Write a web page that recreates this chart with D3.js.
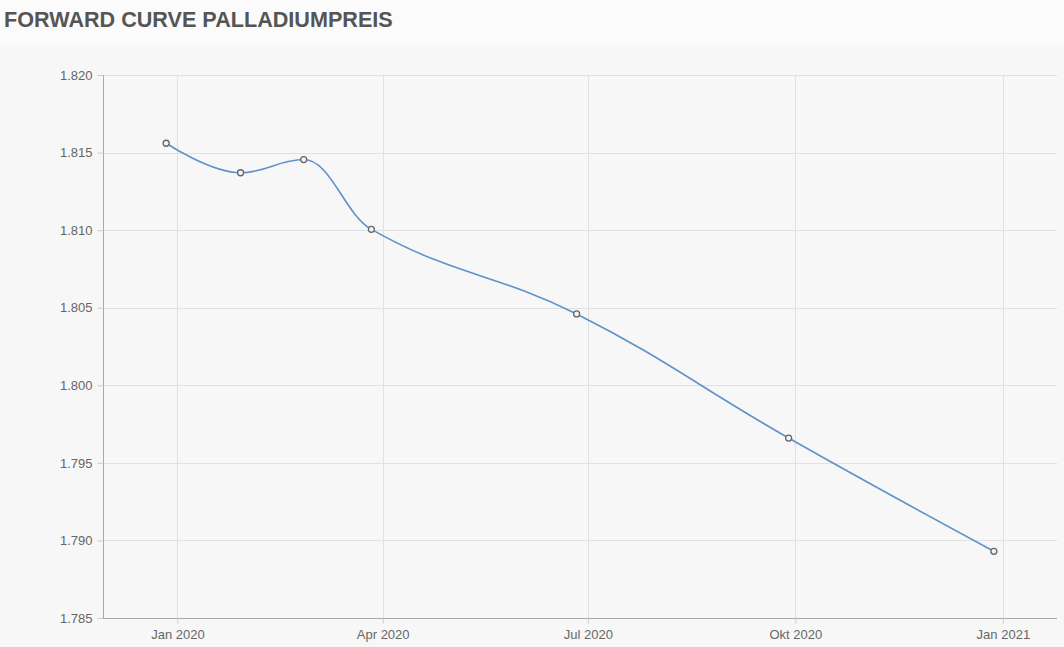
<!DOCTYPE html>
<html><head><meta charset="utf-8">
<script src="https://cdn.jsdelivr.net/npm/d3@7"></script>
<style>
html,body{margin:0;padding:0;background:#fbfbfb;}
svg{display:block;font-family:"Liberation Sans",Arial,sans-serif;}
</style></head>
<body>
<svg id="c" width="1064" height="647"></svg>
<script>
const dates = ["2019-12-27","2020-01-29","2020-02-26","2020-03-27","2020-06-26","2020-09-28","2020-12-28"];
const prices = [1815.6, 1813.7, 1814.55, 1810.05, 1804.6, 1796.6, 1789.3];
const yTicks = [1785, 1790, 1795, 1800, 1805, 1810, 1815, 1820];
const xTickDates = ["2020-01-01","2020-04-01","2020-07-01","2020-10-01","2021-01-01"];
const xTickLabels = ["Jan 2020","Apr 2020","Jul 2020","Okt 2020","Jan 2021"];
const title = "FORWARD CURVE PALLADIUMPREIS";

const svg = d3.select("#c");
const W = 1064, H = 647;
const m = {left:103, right:1057, top:75, bottom:618};
const parse = d3.utcParse("%Y-%m-%d");
const de = d3.formatLocale({decimal:",", thousands:".", grouping:[3], currency:["","€"]});
const fmt = de.format(",.0f");

svg.append("rect").attr("x",0).attr("y",45).attr("width",W).attr("height",H-45).attr("fill","#f7f7f7");
svg.append("text").attr("x",4).attr("y",27).text(title)
  .attr("font-size",21.6).attr("font-weight","bold").attr("fill","#555");

const x = d3.scaleUtc().domain([parse("2019-11-29"), parse("2021-01-25")]).range([m.left, m.right]);
const y = d3.scaleLinear().domain([1785, 1820]).range([m.bottom, m.top]);

// grid
svg.append("g").selectAll("line").data(yTicks.slice(1)).join("line")
  .attr("x1",m.left).attr("x2",m.right).attr("y1",d=>Math.round(y(d))+0.5).attr("y2",d=>Math.round(y(d))+0.5)
  .attr("stroke","#e1e1e1");
svg.append("g").selectAll("line").data(xTickDates).join("line")
  .attr("x1",d=>Math.round(x(parse(d)))+0.5).attr("x2",d=>Math.round(x(parse(d)))+0.5)
  .attr("y1",m.top).attr("y2",m.bottom).attr("stroke","#e1e1e1");

// y axis
const yAxis = d3.axisLeft(y).tickValues(yTicks).tickFormat(fmt).tickSize(6).tickPadding(5);
const gy = svg.append("g").attr("transform",`translate(${m.left+0.5},0)`).call(yAxis);
gy.select(".domain").attr("stroke","#aaa").attr("d",`M0,${m.top}V${m.bottom}`);
gy.selectAll(".tick line").attr("stroke","#ccc");
gy.selectAll(".tick text").attr("fill","#666").attr("font-size",13).attr("font-family","'Liberation Sans',Arial,sans-serif");

// x axis
const xAxis = d3.axisBottom(x).tickValues(xTickDates.map(parse)).tickFormat((d,i)=>xTickLabels[i]).tickSize(5).tickPadding(6);
const gx = svg.append("g").attr("transform",`translate(0,${m.bottom+0.5})`).call(xAxis);
gx.select(".domain").attr("stroke","#aaa").attr("d",`M${m.left},0H${m.right}`);
gx.selectAll(".tick line").attr("stroke","#ccc");
gx.selectAll(".tick text").attr("fill","#666").attr("font-size",13).attr("font-family","'Liberation Sans',Arial,sans-serif");

// Highcharts-like spline
const pts = dates.map((d,i)=>({px:x(parse(d)), py:y(prices[i])}));
function splinePath(p){
  const s=1.5, den=s+1;
  let path = `M${p[0].px},${p[0].py}`;
  for(let i=1;i<p.length;i++){
    const pt=p[i], last=p[i-1], next=p[i+1];
    let lcx=pt.px, lcy=pt.py;
    if(next){
      lcx=(s*pt.px+last.px)/den; lcy=(s*pt.py+last.py)/den;
      let rcx=(s*pt.px+next.px)/den, rcy=(s*pt.py+next.py)/den;
      let corr=0;
      if(rcx!==lcx) corr=((rcy-lcy)*(rcx-pt.px))/(rcx-lcx)+pt.py-rcy;
      lcy+=corr; rcy+=corr;
      if(lcy>last.py && lcy>pt.py){lcy=Math.max(last.py,pt.py); rcy=2*pt.py-lcy;}
      else if(lcy<last.py && lcy<pt.py){lcy=Math.min(last.py,pt.py); rcy=2*pt.py-lcy;}
      if(rcy>next.py && rcy>pt.py){rcy=Math.max(next.py,pt.py); lcy=2*pt.py-rcy;}
      else if(rcy<next.py && rcy<pt.py){rcy=Math.min(next.py,pt.py); lcy=2*pt.py-rcy;}
      pt.rcx=rcx; pt.rcy=rcy;
    }
    const a = last.rcx!==undefined ? last.rcx : last.px;
    const b = last.rcy!==undefined ? last.rcy : last.py;
    path += `C${a},${b},${lcx},${lcy},${pt.px},${pt.py}`;
  }
  return path;
}
svg.append("path").attr("d",splinePath(pts)).attr("fill","none").attr("stroke","#5f92c8").attr("stroke-width",1.6);

svg.append("g").selectAll("circle").data(pts).join("circle")
  .attr("cx",d=>d.px).attr("cy",d=>d.py).attr("r",3)
  .attr("fill","#f4f4f4").attr("stroke","#666").attr("stroke-width",1.3);
</script>
</body></html>
